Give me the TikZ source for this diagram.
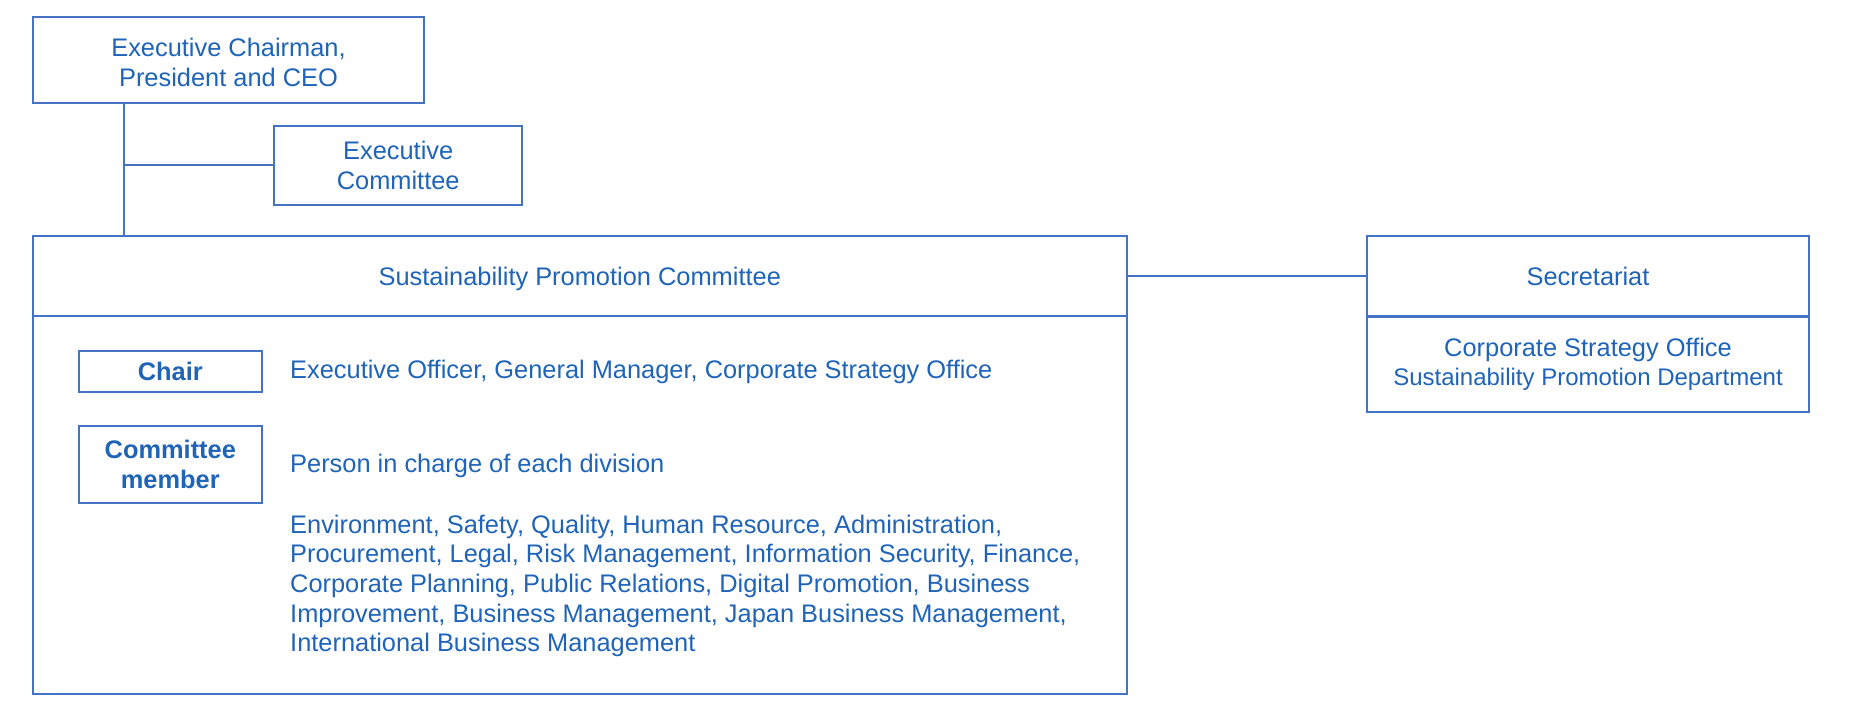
\documentclass[tikz,border=0pt]{standalone}
\usepackage{fontspec}
\setmainfont{Liberation Sans}
\usepackage{xcolor}
\definecolor{orgline}{RGB}{68,114,196}
\definecolor{orgtext}{RGB}{31,100,184}
\tikzset{
  orgbox/.style={draw=orgline, line width=2pt, rectangle, inner sep=0pt, align=center,
    text=orgtext, font=\fontsize{25.4}{30}\selectfont},
  rolebox/.style={orgbox, font=\fontsize{25.4}{30}\selectfont\bfseries},
  orgtxt/.style={anchor=base west, inner sep=0pt, text=orgtext, font=\fontsize{25.4}{30}\selectfont},
  link/.style={draw=orgline, line width=2pt}
}

\begin{document}
\begin{tikzpicture}[x=1pt, y=-1pt]
        \useasboundingbox (0,0) rectangle (1864,722);
        \node[orgbox, minimum width=391pt, minimum height=85.7pt](ceo) at (228.5,60.2) {\rule{0pt}{22pt}Executive Chairman,\\President and CEO};
        \node[orgbox, minimum width=248.5pt, minimum height=79pt](execcom) at (398.2,165.5) {Executive\\Committee};
        \node[orgbox, minimum width=1093.5pt, minimum height=80.5pt, text depth=0pt](spchead) at (579.8,276.2) {Sustainability Promotion Committee};
        \node[orgbox, minimum width=1093.5pt, minimum height=377.5pt](spcbody) at (579.8,505.2) {};
        \node[orgbox, minimum width=442pt, minimum height=80.5pt, text depth=0pt](sechead) at (1588,276.2) {Secretariat};
        \node[orgbox, minimum width=442pt, minimum height=95.8pt](secbody) at (1588,364.4) {Corporate Strategy Office\\[-1.6pt]{\fontsize{24}{28}\selectfont Sustainability Promotion Department}};
        \node[rolebox, minimum width=183.3pt, minimum height=41pt](chair) at (170.3,371.5) {Chair};
        \node[rolebox, minimum width=183.3pt, minimum height=77pt](member) at (170.3,464.5) {Committee\\member};
        \node[orgtxt](chairtxt) at (290,378.7) {Executive Officer, General Manager, Corporate Strategy Office};
        \node[orgtxt](membertxt) at (290,472.7) {Person in charge of each division};
        \foreach \i/\txt in {0/{Environment, Safety, Quality, Human Resource, Administration,},
          1/{Procurement, Legal, Risk Management, Information Security, Finance,},
          2/{Corporate Planning, Public Relations, Digital Promotion, Business},
          3/{Improvement, Business Management, Japan Business Management,},
          4/{International Business Management}}
          \node[orgtxt](area\i) at (290,533.3+29.6*\i) {\txt};
        \coordinate(stem) at (124,0);
        \draw[link](ceo.south -| stem)--(spchead.north -| stem);
        \draw[link](stem |- execcom.west)--(execcom.west);
        \draw[link](spchead.east)--(sechead.west);
        \end{tikzpicture}
\end{document}
